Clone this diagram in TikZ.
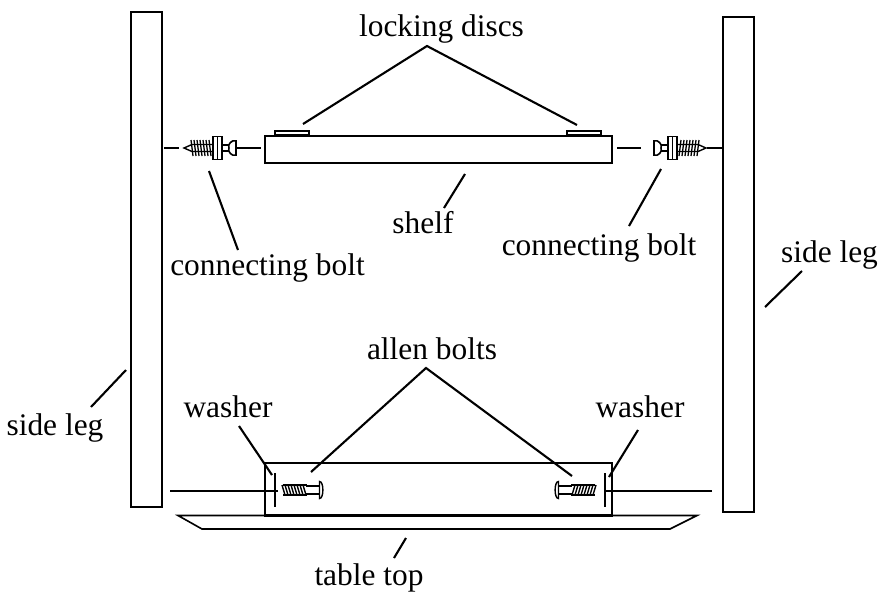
\documentclass[tikz,border=0pt]{standalone}
\usepackage{fontspec}
\setmainfont{Liberation Serif}
\tikzset{
    partbox/.style={rectangle, draw, line width=1.6pt, inner sep=0pt, minimum width=#1},
    callout/.style={inner sep=0pt, anchor=base, font=\fontsize{31.4}{36}\selectfont},
    leader/.style={line width=2.1pt},
    rod/.style={line width=1.8pt},
    washerbar/.style={line width=2.6pt},
    % connecting bolt, drawn pointing left from its head at the origin
    connbolt/.pic={
        \draw[line width=1.6pt] (-1,-7) .. controls (-5,-9) and (-10,-3) .. (-8,0) .. controls (-10,3) and (-5,9) .. (-1,7) -- cycle;
        \draw[line width=1.6pt] (-8,-3) -- (-15,-3) (-8,3) -- (-15,3);
        \draw[line width=1.8pt, fill=white] (-15,-11.5) rectangle (-19.5,11.5) (-19.5,-11.5) rectangle (-24,11.5);
        \foreach \tx in {-26,-29,...,-44} \draw[line width=1.3pt] (\tx,8) -- (\tx-2,-8);
        \draw[line width=1.4pt] (-24,-3.5) -- (-45,-3.5) -- (-53,0) -- (-45,3.5) -- (-24,3.5);
    },
    % allen bolt, drawn pointing right from its head at the origin
    allenbolt/.pic={
        \draw[line width=1.4pt] (3.5,-8.5) .. controls (-1,-9) and (-1,9) .. (3.5,8.5) -- cycle;
        \draw[line width=1.5pt] (3.5,-4) -- (17,-4) (3.5,4) -- (17,4);
        \foreach \tx in {17,20,...,38} \draw[line width=1.4pt] (\tx,5) -- (\tx+3,-5);
        \draw[line width=1.5pt] (16,-5) -- (40,-5) (16,5) -- (40,5);
    }
}
\begin{document}
\begin{tikzpicture}[x=1pt, y=-1pt]
\useasboundingbox (0,0) rectangle (879,592);

% Legs
\node[partbox=31pt, minimum height=495pt] (legleft) at (146.5,259.5) {};
\node[partbox=31pt, minimum height=495pt] (legright) at (738.5,264.5) {};

% Shelf and its discs
\node[partbox=347pt, minimum height=27pt] (shelf) at (438.5,149.5) {};
\node[partbox=34pt, minimum height=4pt, anchor=south] (discleft) at (292,136) {};
\node[partbox=34pt, minimum height=4pt, anchor=south] (discright) at (584,136) {};

% Table top and box under it
\node[partbox=347pt, minimum height=52pt] (tablebox) at (438.5,489) {};
\draw[line width=1.6pt] (178,515.5) -- (697,515.5) -- (670,529) -- (202,529) -- cycle;
\draw[line width=2.6pt] (tablebox.south west) -- (tablebox.south east);

% Connecting bolts
\pic at (237,148) {connbolt};
\pic[xscale=-1] at (653,148) {connbolt};
\coordinate (boltl1) at (164,148);
\coordinate (boltl2) at (179,148);
\coordinate (boltl3) at (237,148);
\coordinate (boltl4) at (261,148);
\coordinate (boltr1) at (617,148);
\coordinate (boltr2) at (641,148);
\coordinate (boltr3) at (707,148);
\draw[rod] (boltl1) -- (boltl2);
\draw[rod] (boltl3) -- (boltl4);
\draw[rod] (boltr1) -- (boltr2);
\draw[rod] (boltr3) -- (boltr3 -| legright.west);

% Allen bolts, washers and rods
\pic[xscale=-1] at (323,490) {allenbolt};
\pic at (555,490) {allenbolt};
\coordinate (rodleft) at (170,491);
\coordinate (rodlefte) at (278,491);
\coordinate (rodright) at (712,491);
\coordinate (rodrighte) at (605,491);
\draw[rod] (rodleft) -- (rodlefte);
\draw[rod] (rodright) -- (rodrighte);
\coordinate (wl1) at (275,473);
\coordinate (wl2) at (275,507);
\coordinate (wr1) at (605,473);
\coordinate (wr2) at (605,507);
\draw[washerbar] (wl1) -- (wl2);
\draw[washerbar] (wr1) -- (wr2);

% Labels
\node[callout] (lbldiscs) at (441.5,36) {locking discs};
\node[callout] (lblboltl) at (267.5,275.5) {connecting bolt};
\node[callout] (lblboltr) at (599,255.5) {connecting bolt};
\node[callout] (lblshelf) at (423,233) {shelf};
\node[callout] (lblsidel) at (55,435) {side leg};
\node[callout] (lblsider) at (829.5,262) {side leg};
\node[callout] (lblallen) at (432,359) {allen bolts};
\node[callout] (lblwashl) at (228,417) {washer};
\node[callout] (lblwashr) at (640,417) {washer};
\node[callout] (lbltable) at (369,585) {table top};

% Leader lines
\coordinate (apexdiscs) at (427,46);
\coordinate (apexallen) at (426,368);
\coordinate (enddiscl) at (303,124);
\coordinate (enddiscr) at (577,125);
\coordinate (endallenl) at (311,472);
\coordinate (endallenr) at (572,476);
\draw[leader] (enddiscl) -- (apexdiscs) -- (enddiscr);
\draw[leader] (endallenl) -- (apexallen) -- (endallenr);
\coordinate (a1) at (209,171);
\coordinate (a2) at (238,250);
\coordinate (b1) at (661,169);
\coordinate (b2) at (629,226);
\coordinate (c1) at (465,174);
\coordinate (c2) at (444,208);
\coordinate (d1) at (126,370);
\coordinate (d2) at (91,407);
\coordinate (e1) at (802,271);
\coordinate (e2) at (765,307);
\coordinate (f1) at (239,426);
\coordinate (f2) at (272,475);
\coordinate (g1) at (638,430);
\coordinate (g2) at (609,477);
\coordinate (h1) at (406,538);
\coordinate (h2) at (394,558);
\draw[leader] (a1) -- (a2);
\draw[leader] (b1) -- (b2);
\draw[leader] (c1) -- (c2);
\draw[leader] (d1) -- (d2);
\draw[leader] (e1) -- (e2);
\draw[leader] (f1) -- (f2);
\draw[leader] (g1) -- (g2);
\draw[leader] (h1) -- (h2);

\end{tikzpicture}
\end{document}
